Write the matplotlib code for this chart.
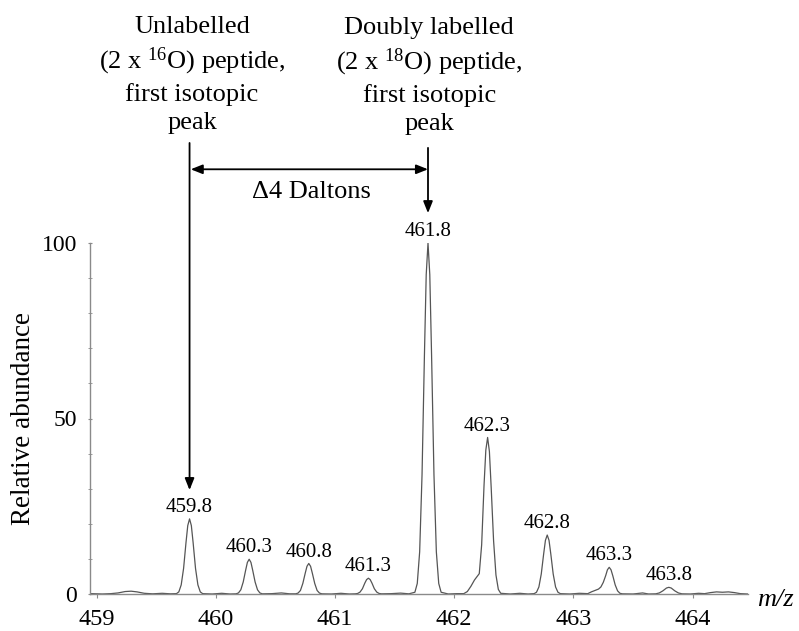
import matplotlib
matplotlib.use('Agg')
import matplotlib.pyplot as plt
from matplotlib.ticker import MultipleLocator

plt.rcParams['font.family'] = ['Liberation Serif', 'DejaVu Serif']
plt.rcParams['mathtext.fontset'] = 'custom'
plt.rcParams['mathtext.rm'] = 'Liberation Serif'
plt.rcParams['mathtext.it'] = 'Liberation Serif:italic'

# profile trace (m/z, relative abundance)
trace_mz = [
    458.95, 459.05, 459.12, 459.18, 459.24, 459.29, 459.34, 459.40, 459.47, 459.55, 459.62,
    459.67, 459.69, 459.71, 459.73, 459.75, 459.765, 459.78, 459.795, 459.81, 459.83, 459.85, 459.87, 459.89,
    459.97, 460.05, 460.12,
    460.17, 460.19, 460.21, 460.23, 460.25, 460.265, 460.28, 460.295, 460.31, 460.33, 460.35, 460.37, 460.39,
    460.47, 460.55, 460.62,
    460.67, 460.69, 460.71, 460.73, 460.75, 460.765, 460.78, 460.795, 460.81, 460.83, 460.85, 460.87, 460.89,
    460.97, 461.05, 461.12,
    461.17, 461.19, 461.21, 461.23, 461.25, 461.265, 461.28, 461.295, 461.31, 461.33, 461.35, 461.37, 461.39,
    461.47, 461.55, 461.62,
    461.67, 461.69, 461.71, 461.73, 461.75, 461.765, 461.78, 461.795, 461.81, 461.83, 461.85, 461.87, 461.89,
    461.95, 462.02,
    462.08, 462.11, 462.14, 462.17, 462.19, 462.21, 462.23, 462.25, 462.265, 462.28, 462.295, 462.31, 462.33,
    462.35, 462.37, 462.39,
    462.47, 462.55, 462.62,
    462.67, 462.69, 462.71, 462.73, 462.75, 462.765, 462.78, 462.795, 462.81, 462.83, 462.85, 462.87, 462.89,
    462.97, 463.05,
    463.12, 463.15, 463.18, 463.21, 463.23, 463.25, 463.27, 463.285, 463.30, 463.315, 463.33, 463.35, 463.37,
    463.39, 463.41,
    463.50, 463.58, 463.63,
    463.69, 463.72, 463.75, 463.78, 463.80, 463.82, 463.85, 463.88, 463.91,
    463.98, 464.05,
    464.10, 464.15, 464.20, 464.25, 464.30, 464.35, 464.40, 464.46,
]
trace_ab = [
    0.1, 0.0, 0.1, 0.3, 0.7, 0.8, 0.6, 0.2, 0.05, 0.2, 0.05,
    0.1, 0.6, 2.6, 7.3, 14.6, 19.5, 21.4, 19.5, 14.6, 7.3, 2.6, 0.6, 0.1,
    0.0, 0.2, 0.0,
    0.05, 0.3, 1.2, 3.4, 6.7, 9.0, 9.9, 9.0, 6.7, 3.4, 1.2, 0.3, 0.05,
    0.1, 0.3, 0.05,
    0.05, 0.26, 1.0, 3.0, 5.9, 7.9, 8.7, 7.9, 5.9, 3.0, 1.0, 0.26, 0.05,
    0.0, 0.2, 0.0,
    0.05, 0.15, 0.55, 1.5, 3.1, 4.1, 4.5, 4.1, 3.1, 1.5, 0.55, 0.15, 0.05,
    0.1, 0.25, 0.05,
    0.5, 3.0, 12.0, 34.0, 68.0, 91.0, 100.0, 91.0, 68.0, 34.0, 12.0, 3.0, 0.5,
    0.0, 0.1,
    0.1, 0.7, 2.2, 4.0, 4.9, 5.8, 14.0, 31.0, 41.0, 44.6, 40.6, 30.3, 15.2,
    5.4, 1.3, 0.2,
    0.0, 0.2, 0.0,
    0.1, 0.5, 2.0, 5.7, 11.4, 15.3, 16.8, 15.3, 11.4, 5.7, 2.0, 0.5, 0.1,
    0.0, 0.2,
    0.1, 0.6, 1.0, 1.4, 2.0, 3.3, 5.2, 6.9, 7.6, 6.9, 5.2, 2.6, 0.9,
    0.2, 0.05,
    0.0, 0.3, 0.0,
    0.05, 0.3, 0.9, 1.7, 1.9, 1.7, 0.9, 0.3, 0.05,
    0.0, 0.2,
    0.1, 0.4, 0.6, 0.5, 0.6, 0.4, 0.1, 0.0,
]

# labelled peaks
peak_mz = [459.78, 460.28, 460.78, 461.28, 461.78, 462.28, 462.78, 463.30, 463.80]
peak_ab = [21.4, 9.9, 8.7, 4.5, 100.0, 44.6, 16.8, 7.6, 1.9]
peak_labels = ['459.8', '460.3', '460.8', '461.3', '461.8', '462.3', '462.8', '463.3', '463.8']

light_mz = 459.78
heavy_mz = 461.78

fig = plt.figure(figsize=(7.99, 6.31), dpi=100)
ax = fig.add_axes([90 / 799, 1 - 594 / 631, (748 - 90) / 799, (594 - 243) / 631])

ax.plot(trace_mz, trace_ab, color='#555555', lw=0.9)

ax.set_xlim(458.945, 464.464)
ax.set_ylim(0, 100)

for side in ['top', 'right']:
    ax.spines[side].set_visible(False)
for side in ['left', 'bottom']:
    ax.spines[side].set_color('#8a8a8a')
    ax.spines[side].set_linewidth(1.0)

ax.set_xticks([459, 460, 461, 462, 463, 464])
ax.set_yticks([0, 50, 100])
ax.yaxis.set_minor_locator(MultipleLocator(10))
ax.tick_params(axis='x', direction='out', length=3, color='#8a8a8a', labelsize=17.5, pad=7.5)
ax.tick_params(axis='y', which='both', direction='inout', length=3, color='#8a8a8a', labelsize=17, pad=8)

ax.set_ylabel('Relative abundance', fontsize=19.5, labelpad=4)
fig.text(775 / 799, 1 - 600 / 631, 'm/z', fontsize=19, style='italic', ha='center', va='center')

for mz, ab, lab in zip(peak_mz, peak_ab, peak_labels):
    ax.annotate(lab, (mz, ab), xytext=(0, 5), textcoords='offset points',
                ha='center', va='baseline', fontsize=15, annotation_clip=False)

# arrows and header text
head = '-|>,head_length=0.5,head_width=0.2'
ax.annotate('', xy=(light_mz, 29.6), xytext=(light_mz, 128.5), annotation_clip=False,
            arrowprops=dict(arrowstyle=head, color='black', lw=1.3, mutation_scale=14,
                            shrinkA=0, shrinkB=0))
ax.annotate('', xy=(heavy_mz, 108.5), xytext=(heavy_mz, 127.1), annotation_clip=False,
            arrowprops=dict(arrowstyle=head, color='black', lw=1.3, mutation_scale=14,
                            shrinkA=0, shrinkB=0))
ax.annotate('', xy=(light_mz + 0.01, 121.0), xytext=(heavy_mz, 121.0), annotation_clip=False,
            arrowprops=dict(arrowstyle='<|-|>,head_length=0.5,head_width=0.2', color='black',
                            lw=1.3, mutation_scale=14, shrinkA=0, shrinkB=0))
ax.text(460.80, 114.5, '\u03944 Daltons', fontsize=19, ha='center', va='center', clip_on=False)

ax.text(light_mz + 0.02, 148.0, 'Unlabelled\n(2 x $^{16}$O) peptide,\nfirst isotopic\npeak',
        fontsize=19, ha='center', va='center', multialignment='center', linespacing=1.34,
        clip_on=False)
ax.text(heavy_mz + 0.01, 147.6, 'Doubly labelled\n(2 x $^{18}$O) peptide,\nfirst isotopic\npeak',
        fontsize=19, ha='center', va='center', multialignment='center', linespacing=1.34,
        clip_on=False)

fig.savefig('out.png', dpi=100)
